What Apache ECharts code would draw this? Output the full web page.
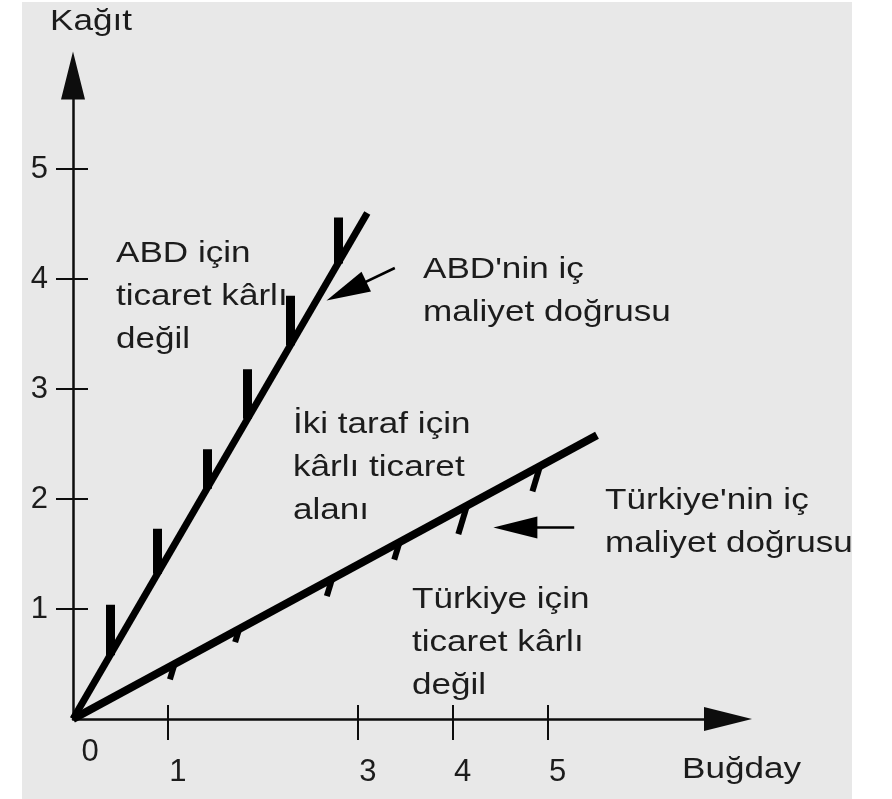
<!DOCTYPE html>
<html>
<head>
<meta charset="utf-8">
<script src="https://cdn.jsdelivr.net/npm/echarts@6/dist/echarts.min.js"></script>
<style>html,body{margin:0;padding:0;background:#fff}#c{width:892px;height:799px}</style>
</head>
<body>
<div id="c"></div>
<script>
// ---- data ----
const xTickValues = [1, 3, 4, 5];
const yTickValues = [1, 2, 3, 4, 5];
// ABD (USA) internal cost line
const abdLineX = [0, 3.1];
const abdLineY = [0, 4.6];
// Türkiye internal cost line
const trLineX = [0, 5.52];
const trLineY = [0, 2.58];
// hatch marks along the lines (x position, length in y units)
const abdHatchX = [0.39, 0.89, 1.41, 1.84, 2.29, 2.79];
const abdHatchLen = [0.46, 0.41, 0.36, 0.45, 0.45, 0.42];
const trHatchX = [1.07, 1.75, 2.73, 3.44, 4.15, 4.92];
const trHatchLen = [0.14, 0.12, 0.16, 0.16, 0.26, 0.23];
// pointer arrows (from, to)
const abdPointer = [[3.39, 4.10], [2.88, 3.89]];
const trPointer = [[5.28, 1.74], [4.66, 1.74]];
// texts
const yAxisName = 'Kağıt';
const xAxisName = 'Buğday';
const originLabel = '0';
const noteAbdNot = 'ABD için\nticaret kârlı\ndeğil';
const noteAbdLine = "ABD'nin iç\nmaliyet doğrusu";
const noteBoth = 'İki taraf için\nkârlı ticaret\nalanı';
const noteTrLine = "Türkiye'nin iç\nmaliyet doğrusu";
const noteTrNot = 'Türkiye için\nticaret kârlı\ndeğil';

const chart = echarts.init(document.getElementById('c'), null, {renderer: 'canvas'});
const ink = '#0d0d0d';
const txt = '#1c1c1c';
const fam = '"Liberation Sans", Arial, Helvetica, sans-serif';

const abdSlope = abdLineY[1] / abdLineX[1];
const trSlope = trLineY[1] / trLineX[1];
const abdHatches = abdHatchX.map((x, i) => ({coords: [[x, x * abdSlope], [x, x * abdSlope + abdHatchLen[i]]]}));
const trHatches = trHatchX.map((x, i) => ({coords: [[x, x * trSlope], [x - trHatchLen[i] * 0.35, x * trSlope - trHatchLen[i]]]}));

function note(text, x, y) {
  return {type: 'text', x: x, y: y, scaleX: 1.17, z: 50,
    style: {text: text, fontSize: 30, fontFamily: fam, fill: txt, lineHeight: 43, align: 'left', verticalAlign: 'top'}};
}

const option = {
  animation: false,
  backgroundColor: '#e8e8e8',
  graphic: [
    {type: 'rect', shape: {x: 0, y: 0, width: 22, height: 799}, style: {fill: '#fff'}, z: 1},
    {type: 'rect', shape: {x: 852, y: 0, width: 40, height: 799}, style: {fill: '#fff'}, z: 1},
    {type: 'rect', shape: {x: 0, y: 0, width: 892, height: 2}, style: {fill: '#fff'}, z: 1},
    note(yAxisName, 50, 0),
    note(xAxisName, 682, 748),
    note(noteAbdNot, 116, 232),
    note(noteAbdLine, 423, 248),
    note(noteBoth, 293, 403),
    note(noteTrLine, 605, 479),
    note(noteTrNot, 412, 578),
    {type: 'text', x: 90, y: 752, z: 50,
      style: {text: originLabel, fontSize: 31, fontFamily: fam, fill: txt, align: 'center', verticalAlign: 'middle'}}
  ],
  grid: {left: 73, right: 164, top: 75.5, bottom: 80, containLabel: false},
  xAxis: [
    {type: 'value', min: 0, max: 6.9, position: 'bottom',
      axisLine: {show: true, onZero: false, symbol: ['none', 'triangle'], symbolSize: [24, 48], lineStyle: {color: ink, width: 2.5}},
      axisTick: {show: true, inside: false, length: 21, customValues: xTickValues, lineStyle: {color: ink, width: 2}},
      axisLabel: {show: true, customValues: xTickValues, margin: 38, fontSize: 31, fontFamily: fam, color: txt, padding: [0, 0, 0, 20]},
      splitLine: {show: false}},
    {type: 'value', min: 0, max: 6.9, position: 'bottom', offset: 0,
      axisLine: {show: false},
      axisTick: {show: true, inside: true, length: 14, customValues: xTickValues, lineStyle: {color: ink, width: 2}},
      axisLabel: {show: false}, splitLine: {show: false}}
  ],
  yAxis: [
    {type: 'value', min: 0, max: 5.85, position: 'left',
      axisLine: {show: true, onZero: false, symbol: ['none', 'triangle'], symbolSize: [24, 48], lineStyle: {color: ink, width: 2.5}},
      axisTick: {show: true, inside: false, length: 17, customValues: yTickValues, lineStyle: {color: ink, width: 2}},
      axisLabel: {show: true, customValues: yTickValues, margin: 25, fontSize: 31, fontFamily: fam, color: txt, padding: [8, 0, 0, 0]},
      splitLine: {show: false}},
    {type: 'value', min: 0, max: 5.85, position: 'left', offset: 0,
      axisLine: {show: false},
      axisTick: {show: true, inside: true, length: 15, customValues: yTickValues, lineStyle: {color: ink, width: 2}},
      axisLabel: {show: false}, splitLine: {show: false}}
  ],
  series: [
    {type: 'lines', coordinateSystem: 'cartesian2d', xAxisIndex: 0, yAxisIndex: 0, z: 4,
      data: abdHatches, lineStyle: {color: '#000', width: 9, opacity: 1}, silent: true},
    {type: 'lines', coordinateSystem: 'cartesian2d', xAxisIndex: 0, yAxisIndex: 0, z: 4,
      data: trHatches, lineStyle: {color: '#000', width: 6, opacity: 1}, silent: true},
    {type: 'line', xAxisIndex: 0, yAxisIndex: 0, z: 5, symbol: 'none', showSymbol: false,
      data: abdLineX.map((x, i) => [x, abdLineY[i]]), lineStyle: {color: '#000', width: 7}},
    {type: 'line', xAxisIndex: 0, yAxisIndex: 0, z: 5, symbol: 'none', showSymbol: false,
      data: trLineX.map((x, i) => [x, trLineY[i]]), lineStyle: {color: '#000', width: 8}},
    {type: 'lines', coordinateSystem: 'cartesian2d', xAxisIndex: 0, yAxisIndex: 0, z: 6,
      symbol: ['none', 'triangle'], symbolSize: [[22, 44], [22, 44]],
      data: [{coords: abdPointer}, {coords: trPointer}],
      lineStyle: {color: '#000', width: 2.5, opacity: 1}, itemStyle: {color: '#000'}, silent: true}
  ]
};
chart.setOption(option);
</script>
</body>
</html>
